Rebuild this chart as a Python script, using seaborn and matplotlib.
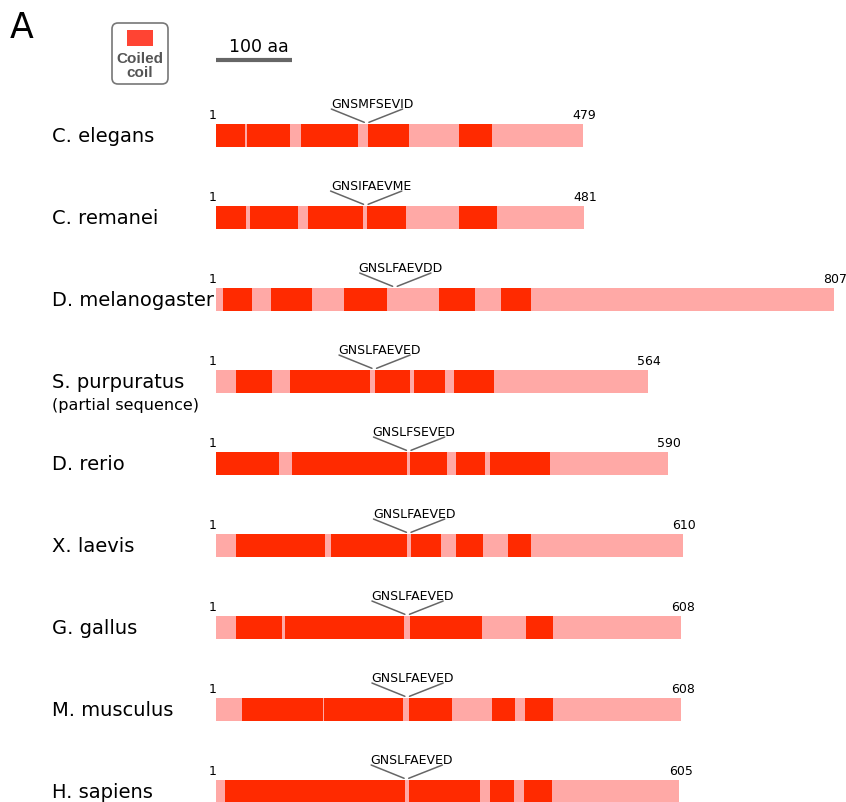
import matplotlib
matplotlib.use('Agg')
import matplotlib.pyplot as plt
import matplotlib.patches as mpatches
import seaborn as sns
import pandas as pd

# Species and protein lengths (aa)
species = ['C. elegans', 'C. remanei', 'D. melanogaster', 'S. purpuratus', 'D. rerio',
           'X. laevis', 'G. gallus', 'M. musculus', 'H. sapiens']
lengths = [479, 481, 807, 564, 590, 610, 608, 608, 605]

# Coiled-coil regions (start, end) in aa
coils = [
    [(1, 38), (41, 97), (112, 186), (199, 252), (317, 361)],
    [(1, 40), (45, 107), (120, 192), (197, 248), (318, 367)],
    [(9, 47), (72, 126), (167, 224), (292, 338), (372, 412)],
    [(26, 73), (97, 202), (208, 254), (259, 300), (311, 363)],
    [(1, 83), (100, 250), (254, 302), (314, 351), (358, 437)],
    [(27, 143), (150, 250), (255, 294), (314, 349), (381, 411)],
    [(26, 86), (91, 246), (254, 348), (405, 441)],
    [(34, 140), (142, 244), (253, 309), (361, 391), (404, 440)],
    [(12, 247), (253, 345), (358, 389), (403, 439)],
]

# Conserved motif: sequence and position (aa)
motifs = ['GNSMFSEVID', 'GNSIFAEVME', 'GNSLFAEVDD', 'GNSLFAEVED', 'GNSLFSEVED',
          'GNSLFAEVED', 'GNSLFAEVED', 'GNSLFAEVED', 'GNSLFAEVED']
motif_pos = [197, 196, 234, 207, 252, 252, 250, 250, 249]

RED = '#FF2A00'
PINK = '#FFA9A6'
GREY = '#666666'

sns.set_theme(style='white')
plt.rcParams['font.family'] = ['DejaVu Sans']
plt.rcParams['text.color'] = 'black'

fig = plt.figure(figsize=(8.46, 8.03), dpi=100)
ax = fig.add_axes([0, 0, 1, 1])

df = pd.DataFrame({'species': species, 'length': lengths})

# full-length protein bars
sns.barplot(data=df, x='length', y='species', orient='h', color=PINK,
            saturation=1, width=0.28, linewidth=0, ax=ax)

bh = 0.28
for i, segs in enumerate(coils):
    ax.broken_barh([(s, e - s) for s, e in segs], (i - bh / 2, bh),
                   facecolors=RED, linewidth=0)

    # start / end numbers
    ax.text(-4, i - 0.22, '1', ha='center', va='baseline', fontsize=9)
    ax.text(lengths[i] + 2, i - 0.22, str(lengths[i]), ha='center',
            va='baseline', fontsize=9)

    # motif label and pointer lines
    m = motif_pos[i]
    ax.plot([m - 46, m - 3], [i - 0.325, i - 0.163], color=GREY, lw=1.1)
    ax.plot([m + 47, m + 3], [i - 0.325, i - 0.163], color=GREY, lw=1.1)
    ax.text(m + 7, i - 0.346, motifs[i], ha='center', va='baseline', fontsize=9)

    # species name
    ax.text(-213.7, i + 0.07, species[i], ha='left', va='baseline', fontsize=14)

ax.text(-213.7, 3 + 0.333, '(partial sequence)', ha='left', va='baseline', fontsize=11.5)

# scale bar
ax.plot([0, 100], [-0.927, -0.927], color=GREY, lw=3, solid_capstyle='butt')
ax.text(56, -1.03, '100 aa', ha='center', va='baseline', fontsize=12.5)

ax.set_xlim(-281.6, 822.9)
ax.set_ylim(8.126, -1.667)
ax.axis('off')

# panel letter and legend box (pixel coordinates)
deco = fig.add_axes([0, 0, 1, 1], facecolor='none')
deco.set_xlim(0, 846)
deco.set_ylim(803, 0)
deco.axis('off')
deco.text(10, 38, 'A', fontsize=25, ha='left', va='baseline')
box = mpatches.FancyBboxPatch((112, 24), 56, 61, boxstyle='round,pad=0,rounding_size=6',
                              facecolor='white', edgecolor='#777777', lw=1.2)
deco.add_patch(box)
deco.add_patch(mpatches.Rectangle((127, 31), 26, 16, facecolor='#FF4433', lw=0))
deco.text(140, 59, 'Coiled', ha='center', va='center', fontsize=11, fontweight='bold',
          color='#555555', family='Liberation Sans')
deco.text(140, 73, 'coil', ha='center', va='center', fontsize=11, fontweight='bold',
          color='#555555', family='Liberation Sans')

fig.savefig('out.png', dpi=100)
